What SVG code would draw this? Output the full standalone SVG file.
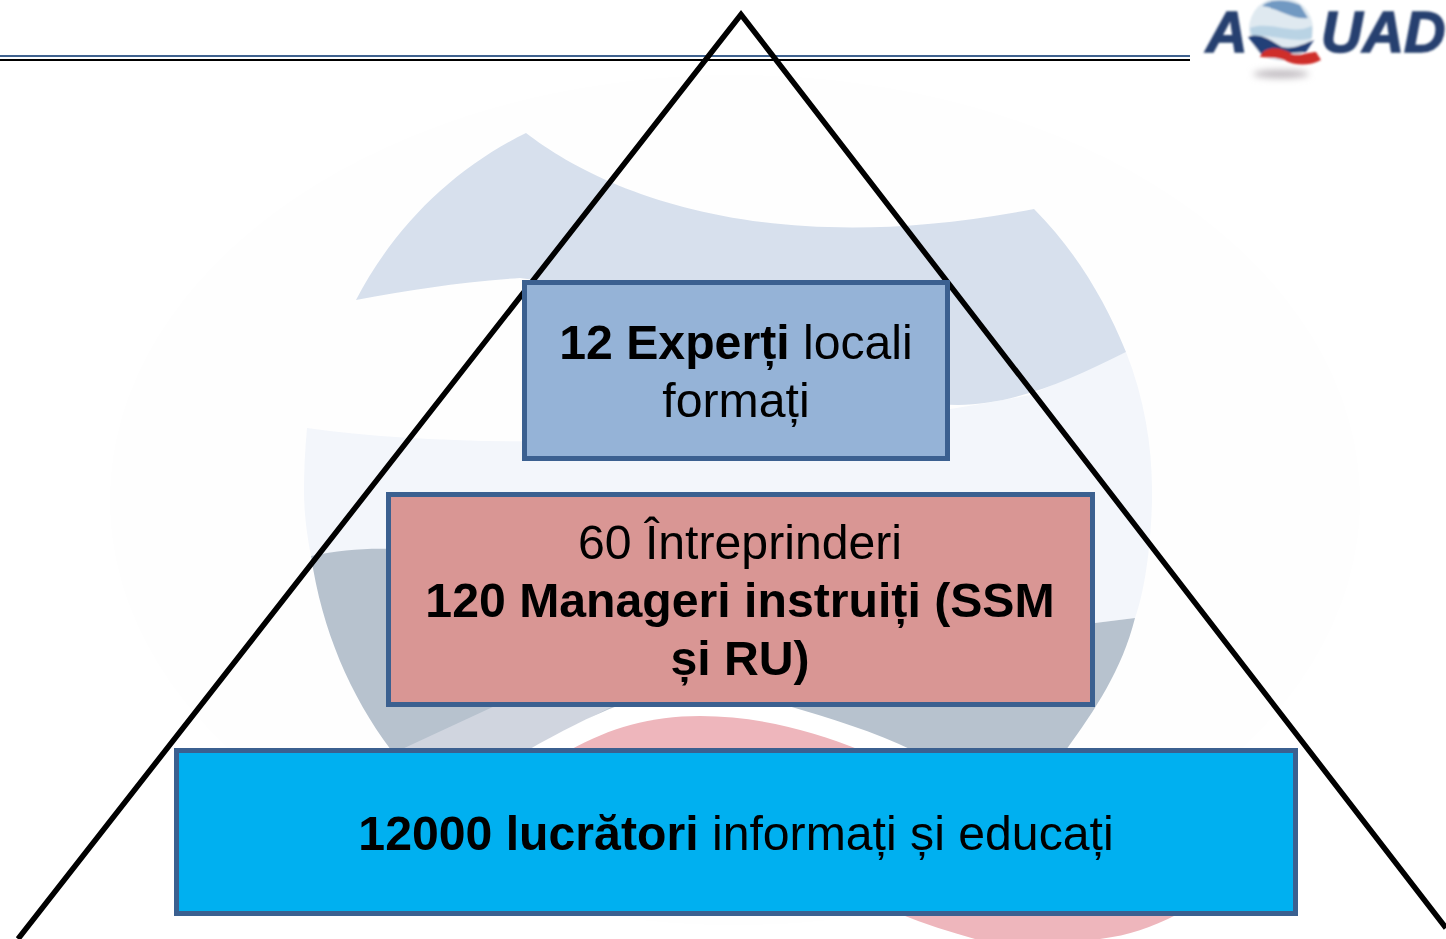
<svg xmlns="http://www.w3.org/2000/svg" width="1446" height="939" viewBox="0 0 1446 939">
<defs>
<filter id="soft" x="-10%" y="-10%" width="120%" height="120%"><feGaussianBlur stdDeviation="0.9"/></filter>
<filter id="shadow" x="-30%" y="-100%" width="160%" height="300%"><feGaussianBlur stdDeviation="3.500"/></filter>
</defs>
<style>
.t{font-family:"Liberation Sans",Arial,sans-serif;font-size:48.200px;fill:#000;text-anchor:middle}
.b{font-weight:bold}
.box{stroke:#3b6090;stroke-width:5}
.tri{fill:none;stroke:#000;stroke-width:5.500}
.logo{font-family:"Liberation Sans",Arial,sans-serif;font-size:57.500px;font-weight:bold;font-style:italic;fill:#27406f;stroke:#27406f;stroke-width:1.500}
</style>
<rect width="1446" height="939" fill="#fff"/>
<g id="background">
<ellipse cx="735" cy="500" rx="625" ry="425" fill="#fefefe"/>
<path d="M304 490 C304 470 305 450 307 428 C500 455 800 440 1030 395 L1126 352 C1145 400 1153 450 1152 500 C1151 545 1145 590 1135 618 L1095 623 L311 556 C306 530 304 510 304 490Z" fill="#f3f6fb"/>
<path d="M356 300 C395 225 455 168 526 133 C600 190 760 262 1034 209 C1075 250 1105 300 1126 352 C1060 385 1000 410 940 404 L900 330 L520 278 C460 282 410 290 356 300Z" fill="#d7e0ed"/>
<path d="M311 556 C340 550 365 548 395 549 L1095 623 L1135 618 C1122 670 1095 710 1066 750 L391 750 C350 695 322 630 311 556Z" fill="#b7c2ce"/>
<path d="M400 750 L497 705 L615 705 L528 750Z" fill="#d0d5df"/>
<path d="M528 750 C560 732 590 716 620 705 L785 705 C830 718 875 732 912 750Z" fill="#fff"/>
<path d="M570 750 C610 728 650 716 700 716 C760 716 815 732 860 750Z" fill="#eeb6bc"/>
<path d="M900 914 L1178 914 C1150 928 1130 935 1100 939 L975 939 C950 932 925 924 900 914Z" fill="#eeb6bc"/>
</g>
<g id="header">
<line x1="0" y1="56" x2="1190" y2="56" stroke="#3f628f" stroke-width="2"/>
<line x1="0" y1="60" x2="1190" y2="60" stroke="#000" stroke-width="2"/>
</g>
<g id="logo">
<ellipse cx="1281" cy="74" rx="28" ry="4" fill="#bdb8bd" filter="url(#shadow)"/>
<g filter="url(#soft)">
<circle cx="1281" cy="29" r="32" fill="#dfe9f0"/>
<path d="M1262 6 C1270 -1 1285 -1 1300 5 L1308 18 C1292 20 1278 8 1262 6Z" fill="#7199c2"/>
<path d="M1250 28 C1270 20 1290 36 1312 26 L1312 38 C1295 44 1275 34 1252 36Z" fill="#b9d3e4"/>
<path d="M1248 37 C1260 32 1270 40 1282 47 C1292 50 1304 44 1314 40 L1306 52 L1262 55Z" fill="#223f78"/>
<path d="M1260 57 C1264 46 1280 46 1292 54 C1300 56 1310 52 1316 52 L1321 60 C1310 66 1295 66 1284 60 C1275 57 1268 58 1260 57Z" fill="#cf2f2a"/>
<text class="logo" x="1206" y="52">A</text>
<text class="logo" x="1321" y="52">UAD</text>
</g>
</g>
<g id="connectors">
<path class="tri" d="M18 939 L741 14.500 L1446 928"/>
</g>
<g id="node-experti">
<rect class="box" x="524.500" y="282.500" width="423" height="176" fill="#95b3d7"/>
<text class="t" x="736" y="359"><tspan class="b">12 Experți</tspan> locali</text>
<text class="t" x="736" y="417">formați</text>
</g>
<g id="node-manageri">
<rect class="box" x="388.500" y="494.500" width="704" height="210" fill="#d99694"/>
<text class="t" x="740" y="559">60 Întreprinderi</text>
<text class="t b" x="740" y="617">120 Manageri instruiți (SSM</text>
<text class="t b" x="740" y="675">și RU)</text>
</g>
<g id="node-lucratori">
<rect class="box" x="176.500" y="750.500" width="1119" height="163" fill="#00b0f0"/>
<text class="t" x="736" y="850"><tspan class="b">12000 lucrători</tspan> informați și educați</text>
</g>
</svg>
